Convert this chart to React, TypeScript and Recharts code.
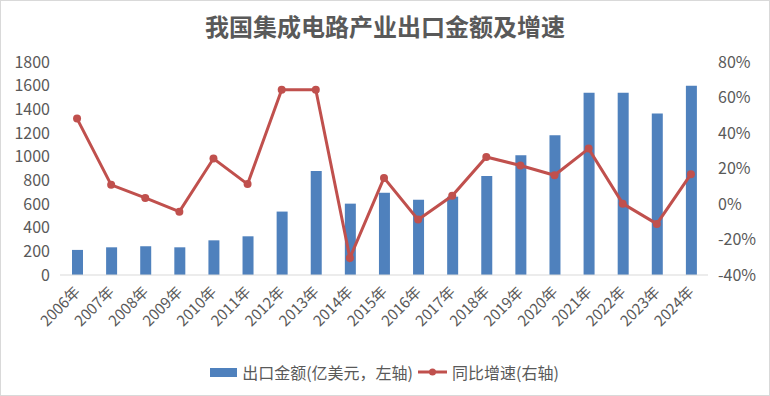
import { Bar, ComposedChart, Legend, Line, XAxis, YAxis } from "recharts";

const years = [
  "2006年", "2007年", "2008年", "2009年", "2010年", "2011年", "2012年", "2013年", "2014年", "2015年",
  "2016年", "2017年", "2018年", "2019年", "2020年", "2021年", "2022年", "2023年", "2024年",
];
const exportValue = [212, 234, 243, 234, 293, 327, 536, 879, 603, 695, 636, 662, 837, 1013, 1181, 1541, 1541, 1365, 1600];
const growth = [48.1, 10.8, 3.4, -4.3, 25.6, 11.2, 64.4, 64.4, -30.4, 14.7, -8.8, 4.6, 26.5, 21.7, 16.2, 31.2, 0.2, -11.2, 16.8];
const leftTicks = [0, 200, 400, 600, 800, 1000, 1200, 1400, 1600, 1800];
const rightTicks = [-40, -20, 0, 20, 40, 60, 80];

const BLUE = "#4f81bd";
const RED = "#c0504d";
const TEXT = "#595959";
const FONT = '"Noto Sans CJK SC", "Noto Sans", sans-serif';

const data = years.map((year, i) => ({ year, value: exportValue[i], rate: growth[i] }));

function YearTick({ x, y, payload }: any) {
  return (
    <text
      x={x + 4}
      y={y + 10}
      transform={`rotate(-45, ${x + 4}, ${y + 10})`}
      textAnchor="end"
      fontSize={15}
      fill={TEXT}
      fontFamily={FONT}
    >
      {payload.value}
    </text>
  );
}

function LegendContent() {
  return (
    <div style={{ display: "flex", justifyContent: "center", alignItems: "center", fontSize: 16, color: TEXT, fontFamily: FONT }}>
      <span style={{ display: "inline-block", width: 27, height: 9, background: BLUE, marginRight: 5 }} />
      <span style={{ marginRight: 5 }}>出口金额(亿美元，左轴)</span>
      <svg width={29} height={12} style={{ marginRight: 5 }}>
        <line x1={0} y1={6} x2={29} y2={6} stroke={RED} strokeWidth={3} />
        <circle cx={14.5} cy={6} r={3.5} fill={RED} />
      </svg>
      <span>同比增速(右轴)</span>
    </div>
  );
}

export default function App() {
  return (
    <div
      style={{
        position: "absolute",
        left: 0,
        top: 0,
        width: 770,
        height: 396,
        border: "1px solid #d9d9d9",
        boxSizing: "border-box",
        background: "#fff",
        fontFamily: FONT,
      }}
    >
      <div
        style={{
          position: "absolute",
          top: 7,
          width: "100%",
          textAlign: "center",
          fontSize: 24,
          fontWeight: "bold",
          color: TEXT,
        }}
      >
        我国集成电路产业出口金额及增速
      </div>
      <ComposedChart
        width={768}
        height={394}
        data={data}
        margin={{ top: 61, right: 0, bottom: 0, left: -1 }}
        barCategoryGap={0}
      >
        <XAxis
          dataKey="year"
          interval={0}
          tick={<YearTick />}
          tickLine={false}
          axisLine={{ stroke: "#d9d9d9" }}
          height={96}
        />
        <YAxis
          yAxisId="left"
          domain={[0, 1800]}
          ticks={leftTicks}
          width={60}
          tickLine={false}
          axisLine={false}
          tickMargin={4}
          tick={{ fontSize: 16, fill: TEXT, fontFamily: FONT }}
        />
        <YAxis
          yAxisId="right"
          orientation="right"
          domain={[-40, 80]}
          ticks={rightTicks}
          width={61}
          tickLine={false}
          axisLine={false}
          tickMargin={4}
          tickFormatter={(v) => `${v}%`}
          tick={{ fontSize: 16, fill: TEXT, fontFamily: FONT }}
        />
        <Legend verticalAlign="bottom" content={<LegendContent />} wrapperStyle={{ top: 359 }} />
        <Bar yAxisId="left" dataKey="value" fill={BLUE} barSize={11} isAnimationActive={false} />
        <Line
          yAxisId="right"
          dataKey="rate"
          stroke={RED}
          strokeWidth={3}
          dot={{ r: 4, fill: RED, stroke: RED, strokeWidth: 0 }}
          isAnimationActive={false}
        />
      </ComposedChart>
    </div>
  );
}
